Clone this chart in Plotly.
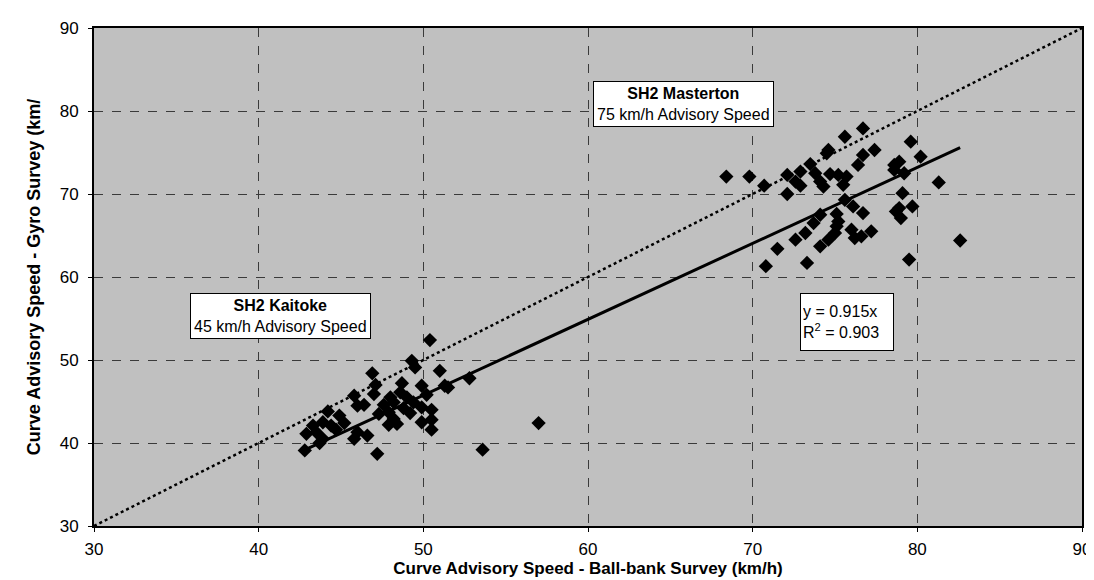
import plotly.graph_objects as go

# SH2 Kaitoke (45 km/h advisory) - ball-bank vs gyro
kaitoke_ballbank = [50.4, 49.3, 49.5, 51.0, 46.9, 47.1, 48.7, 49.9, 45.8, 47.0,
                    46.0, 46.4, 48.6, 49.0, 49.4, 47.6, 48.2, 47.9, 49.9, 50.5,
                    50.5, 50.5, 49.9, 48.2, 48.4, 47.9, 44.9, 44.2, 43.9, 44.4,
                    43.3, 43.5, 42.9, 43.9, 42.8, 47.2, 45.8, 46.0, 46.6, 53.6,
                    57.0, 52.8, 48.8, 49.2, 48.0, 47.3, 45.2, 44.7, 43.7, 50.2,
                    51.5, 51.3]
kaitoke_gyro = [52.4, 49.9, 49.1, 48.7, 48.4, 47.0, 47.2, 46.9, 45.7, 45.9,
                44.5, 44.6, 46.1, 45.5, 44.9, 44.6, 44.9, 43.7, 44.3, 44.0,
                42.8, 41.6, 42.5, 42.9, 42.3, 42.2, 43.3, 43.8, 42.5, 42.1,
                42.1, 41.3, 41.1, 40.5, 39.1, 38.7, 40.5, 41.3, 40.9, 39.2,
                42.4, 47.8, 44.2, 43.6, 45.5, 43.5, 42.4, 41.6, 40.0, 45.8,
                46.7, 46.9]

# SH2 Masterton (75 km/h advisory)
masterton_ballbank = [76.7, 75.6, 79.6, 74.5, 74.6, 77.4, 76.7, 80.2, 73.5, 76.4,
                      78.6, 78.9, 68.4, 69.8, 70.7, 72.1, 72.6, 72.9, 72.1, 73.8,
                      74.1, 74.7, 75.2, 75.7, 75.5, 74.3, 78.6, 79.2, 81.3, 79.1,
                      79.7, 78.7, 79.0, 75.6, 76.1, 76.7, 75.1, 75.2, 74.1, 73.7,
                      73.2, 72.6, 75.1, 75.0, 74.6, 74.1, 76.0, 76.2, 76.6, 77.2,
                      71.5, 70.8, 73.3, 79.5, 82.6, 72.9, 78.9]
masterton_gyro = [77.9, 76.9, 76.3, 74.9, 75.3, 75.3, 74.7, 74.5, 73.6, 73.5,
                  73.5, 73.9, 72.1, 72.1, 71.0, 72.3, 71.5, 71.0, 70.0, 72.5,
                  71.5, 72.4, 72.3, 72.1, 71.1, 70.9, 72.9, 72.5, 71.4, 70.1,
                  68.5, 67.9, 67.1, 69.3, 68.5, 67.7, 67.6, 66.7, 67.5, 66.5,
                  65.3, 64.5, 66.1, 65.3, 64.5, 63.7, 65.7, 64.7, 64.9, 65.5,
                  63.4, 61.3, 61.7, 62.1, 64.4, 72.7, 68.3]

# fitted line y = 0.915x and the 1:1 line
slope = 0.915
trend_x = [42.8, 82.6]
equal_line = [30, 90]

fnt = "Liberation Sans, Arial, sans-serif"

fig = go.Figure()
fig.add_trace(go.Scatter(x=equal_line, y=equal_line, mode="lines",
                         line=dict(color="black", width=2.5, dash="dot"),
                         hoverinfo="skip"))
fig.add_trace(go.Scatter(x=kaitoke_ballbank + masterton_ballbank,
                         y=kaitoke_gyro + masterton_gyro, mode="markers",
                         marker=dict(symbol="diamond", size=11, color="black",
                                     line=dict(width=0))))
fig.add_trace(go.Scatter(x=trend_x, y=[slope * v for v in trend_x], mode="lines",
                         line=dict(color="black", width=3)))

box_font = dict(size=16, family=fnt, color="black")
fig.add_annotation(x=65.8, y=80.8, text="<b>SH2 Masterton</b><br>75 km/h Advisory Speed",
                   showarrow=False, bgcolor="white", bordercolor="black",
                   borderwidth=1, borderpad=3, font=box_font)
fig.add_annotation(x=41.3, y=55.3, text="<b>SH2 Kaitoke</b><br>45 km/h Advisory Speed",
                   showarrow=False, bgcolor="white", bordercolor="black",
                   borderwidth=1, borderpad=3, font=box_font)
fig.add_annotation(x=75.7, y=54.6, text="y = 0.915x<br>R<sup>2</sup> = 0.903",
                   showarrow=False, align="left", bgcolor="white", bordercolor="black",
                   borderwidth=1, borderpad=2, height=52, width=88, font=box_font)

axis = dict(range=[30, 90], dtick=10, showgrid=True, gridcolor="#3a3a3a",
            gridwidth=1, griddash="dash", zeroline=False, showline=True,
            linecolor="black", linewidth=2, mirror=True, ticks="outside",
            ticklen=4, tickcolor="black",
            tickfont=dict(size=17, family=fnt, color="black"))

fig.update_layout(
    width=1094, height=580, showlegend=False,
    margin=dict(l=86, r=20, t=20, b=62),
    paper_bgcolor="white", plot_bgcolor="#c0c0c0",
    xaxis=dict(axis, ticklabelstandoff=3, automargin=False,
               title=dict(text="<b>Curve Advisory Speed - Ball-bank Survey (km/h)</b>",
                          font=dict(size=17, family=fnt, color="black"), standoff=0)),
    yaxis=dict(axis, ticklabelstandoff=6, automargin=False,
               title=dict(text="<b>Curve Advisory Speed - Gyro Survey (km/</b>",
                          font=dict(size=18, family=fnt, color="black"), standoff=14)),
)

fig.write_html("out.html")
